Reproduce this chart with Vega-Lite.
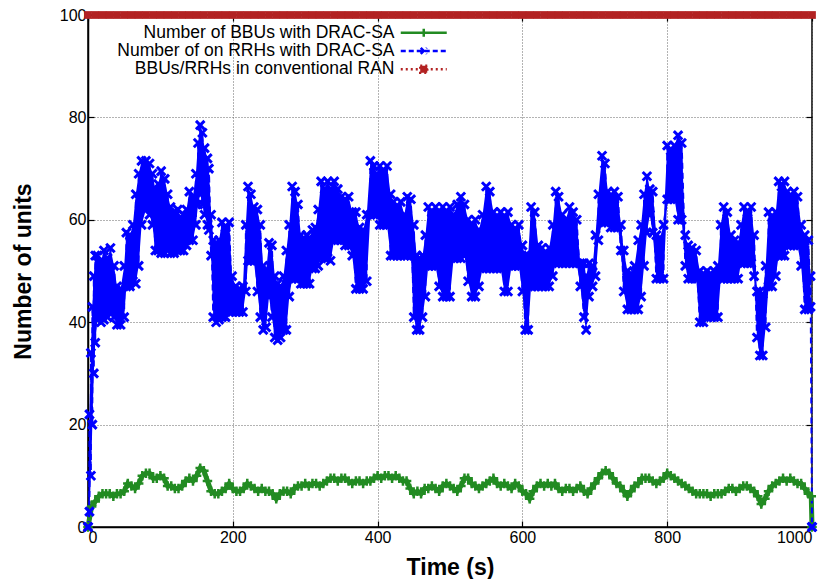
{
  "$schema": "https://vega.github.io/schema/vega-lite/v6.json",
  "width": 724,
  "height": 512,
  "autosize": "none",
  "padding": {"left": 88, "top": 15, "right": 20, "bottom": 52},
  "background": "white",
  "datasets": {
    "green": [
      {"t":0,"v":0},{"t":5,"v":4},{"t":10,"v":5},{"t":15,"v":6},{"t":20,"v":6.5},{"t":25,"v":6.5},{"t":30,"v":6.5},{"t":35,"v":6},{"t":40,"v":6.5},{"t":45,"v":6.5},{"t":50,"v":7},
      {"t":55,"v":8.5},{"t":60,"v":8},{"t":65,"v":7.5},{"t":70,"v":8.5},{"t":75,"v":10},{"t":80,"v":10.5},{"t":85,"v":10.5},{"t":90,"v":9.5},{"t":95,"v":9.5},{"t":100,"v":10},{"t":105,"v":9.5},
      {"t":110,"v":8},{"t":115,"v":8},{"t":120,"v":7.5},{"t":125,"v":7.5},{"t":130,"v":8},{"t":135,"v":9},{"t":140,"v":9.5},{"t":145,"v":9},{"t":150,"v":10},{"t":155,"v":11.5},{"t":160,"v":11},{"t":165,"v":9},
      {"t":170,"v":7},{"t":175,"v":6.5},{"t":180,"v":6.5},{"t":185,"v":7},{"t":190,"v":7.5},{"t":195,"v":8.5},{"t":200,"v":7.5},{"t":205,"v":7},{"t":210,"v":7},{"t":215,"v":7.5},{"t":220,"v":8.5},{"t":225,"v":8},{"t":230,"v":7.5},{"t":235,"v":7},{"t":240,"v":7.5},{"t":245,"v":7},{"t":250,"v":7},{"t":255,"v":6.5},{"t":260,"v":5.5},{"t":265,"v":6.5},{"t":270,"v":7},{"t":275,"v":7},{"t":280,"v":6.5},{"t":285,"v":7.5},{"t":290,"v":8},{"t":295,"v":8},
      {"t":300,"v":8.5},{"t":305,"v":8},{"t":310,"v":8.5},{"t":315,"v":8.5},{"t":320,"v":8},{"t":325,"v":8.5},{"t":330,"v":9},{"t":335,"v":9.5},{"t":340,"v":9.5},{"t":345,"v":9},{"t":350,"v":9.5},{"t":355,"v":9.5},{"t":360,"v":9},{"t":365,"v":8.5},{"t":370,"v":9},{"t":375,"v":9},{"t":380,"v":8.5},{"t":385,"v":9},{"t":390,"v":9},{"t":395,"v":9.5},
      {"t":400,"v":10},{"t":405,"v":9.5},{"t":410,"v":10},{"t":415,"v":10},{"t":420,"v":9.5},{"t":425,"v":10},{"t":430,"v":9.5},{"t":435,"v":9},{"t":440,"v":9},{"t":445,"v":7.5},{"t":450,"v":6.5},{"t":455,"v":7},{"t":460,"v":6.5},{"t":465,"v":7.5},{"t":470,"v":7.5},{"t":475,"v":8},{"t":480,"v":7.5},{"t":485,"v":7},{"t":490,"v":8},{"t":495,"v":8.5},
      {"t":500,"v":8},{"t":505,"v":7.5},{"t":510,"v":7},{"t":515,"v":8},{"t":520,"v":9.5},{"t":525,"v":9.5},{"t":530,"v":8.5},{"t":535,"v":8},{"t":540,"v":7.5},{"t":545,"v":8},{"t":550,"v":8.5},{"t":555,"v":9},{"t":560,"v":9.5},{"t":565,"v":8.5},{"t":570,"v":8},{"t":575,"v":8.5},{"t":580,"v":8},{"t":585,"v":7.5},{"t":590,"v":8.5},{"t":595,"v":8},
      {"t":600,"v":7},{"t":605,"v":6.5},{"t":610,"v":5.5},{"t":615,"v":7},{"t":620,"v":8},{"t":625,"v":8.5},{"t":630,"v":8},{"t":635,"v":8.5},{"t":640,"v":8},{"t":645,"v":8.5},{"t":650,"v":7.5},{"t":655,"v":7},{"t":660,"v":7.5},{"t":665,"v":7.5},{"t":670,"v":7},{"t":675,"v":7.5},{"t":680,"v":8},{"t":685,"v":7},{"t":690,"v":6.5},{"t":695,"v":7.5},
      {"t":700,"v":8.5},{"t":705,"v":9.5},{"t":710,"v":10.5},{"t":715,"v":11},{"t":720,"v":10.5},{"t":725,"v":9.5},{"t":730,"v":8.5},{"t":735,"v":8},{"t":740,"v":7},{"t":745,"v":6},{"t":750,"v":7},{"t":755,"v":8},{"t":760,"v":8.5},{"t":765,"v":9.5},{"t":770,"v":9.5},{"t":775,"v":9.5},{"t":780,"v":9},{"t":785,"v":8.5},{"t":790,"v":9},{"t":795,"v":9.5},
      {"t":800,"v":10.5},{"t":805,"v":10},{"t":810,"v":9.5},{"t":815,"v":9},{"t":820,"v":8.5},{"t":825,"v":8},{"t":830,"v":7.5},{"t":835,"v":7},{"t":840,"v":6.5},{"t":845,"v":6.5},{"t":850,"v":6.5},{"t":855,"v":6.5},{"t":860,"v":6},{"t":865,"v":6.5},{"t":870,"v":6.5},{"t":875,"v":6.5},{"t":880,"v":7},{"t":885,"v":7.5},{"t":890,"v":7.5},{"t":895,"v":7},
      {"t":900,"v":7.5},{"t":905,"v":8},{"t":910,"v":8},{"t":915,"v":7.5},{"t":920,"v":7},{"t":925,"v":6},{"t":930,"v":4.5},{"t":935,"v":5.5},{"t":940,"v":7},{"t":945,"v":8},{"t":950,"v":8.5},{"t":955,"v":9},{"t":960,"v":9.5},{"t":965,"v":9},{"t":970,"v":9.5},{"t":975,"v":9},{"t":980,"v":8.5},{"t":985,"v":8.5},{"t":990,"v":7.5},{"t":995,"v":6.5},{"t":999,"v":6},{"t":1000,"v":0}
    ],
    "blue": [
      {"t":0,"lo":0,"hi":0},{"t":2,"lo":3,"hi":22},{"t":4,"lo":10,"hi":34},{"t":6,"lo":20,"hi":43},{"t":8,"lo":30,"hi":49},{"t":10,"lo":36,"hi":53},{"t":13,"lo":40.5,"hi":53},{"t":18,"lo":40,"hi":52},{"t":22,"lo":40.5,"hi":54},{"t":27,"lo":41,"hi":52.5},{"t":31,"lo":42,"hi":54.5},{"t":36,"lo":41,"hi":51},{"t":40,"lo":39.5,"hi":47},{"t":45,"lo":39.5,"hi":46.5},{"t":50,"lo":41,"hi":51},
      {"t":53,"lo":47,"hi":57.5},{"t":58,"lo":47,"hi":57},{"t":62,"lo":48,"hi":59},{"t":66,"lo":47.5,"hi":65},{"t":70,"lo":51,"hi":69},{"t":74,"lo":59,"hi":71.5},{"t":80,"lo":62,"hi":71.5},{"t":85,"lo":61,"hi":71},{"t":89,"lo":59,"hi":69},{"t":93,"lo":54,"hi":66},{"t":97,"lo":54,"hi":67},{"t":101,"lo":53.5,"hi":69.5},{"t":106,"lo":53.5,"hi":68},{"t":110,"lo":54,"hi":65},{"t":114,"lo":53.5,"hi":62.5},{"t":119,"lo":53.5,"hi":61.5},{"t":124,"lo":54,"hi":62},{"t":128,"lo":54,"hi":60.5},{"t":132,"lo":54,"hi":61},{"t":136,"lo":55,"hi":62},{"t":140,"lo":56,"hi":65.5},{"t":145,"lo":56,"hi":64.5},{"t":149,"lo":59,"hi":69},{"t":152,"lo":63,"hi":75},{"t":155,"lo":65,"hi":78.5},{"t":158,"lo":63,"hi":77},{"t":161,"lo":61,"hi":74},{"t":165,"lo":59,"hi":72},{"t":167,"lo":58,"hi":70},
      {"t":170,"lo":53,"hi":61},{"t":173,"lo":41,"hi":56},{"t":177,"lo":40,"hi":55.5},{"t":181,"lo":40.5,"hi":56},{"t":185,"lo":41,"hi":59.5},{"t":190,"lo":41,"hi":58.5},{"t":195,"lo":42,"hi":59.5},{"t":199,"lo":42,"hi":49},{"t":204,"lo":42,"hi":47},{"t":209,"lo":42,"hi":46.5},{"t":214,"lo":42,"hi":47},{"t":218,"lo":46,"hi":59},{"t":221,"lo":52,"hi":66.5},{"t":225,"lo":52,"hi":65},{"t":229,"lo":52,"hi":62.5},{"t":234,"lo":46,"hi":62},{"t":238,"lo":41,"hi":59},{"t":242,"lo":38.5,"hi":51},{"t":246,"lo":39,"hi":50},{"t":250,"lo":45,"hi":55.5},{"t":254,"lo":41,"hi":55},{"t":258,"lo":37,"hi":49},{"t":262,"lo":36.5,"hi":47.5},{"t":266,"lo":37,"hi":47},{"t":270,"lo":38.5,"hi":49},{"t":274,"lo":38.5,"hi":54},{"t":278,"lo":45,"hi":59},{"t":282,"lo":48.5,"hi":66.5},{"t":286,"lo":48.5,"hi":65.5},{"t":290,"lo":48.5,"hi":63},{"t":294,"lo":47.5,"hi":57},{"t":298,"lo":47.5,"hi":56},{"t":302,"lo":47.5,"hi":57},{"t":306,"lo":47.5,"hi":56.5},{"t":310,"lo":50.5,"hi":58},{"t":314,"lo":50.5,"hi":58.5},{"t":318,"lo":51,"hi":62},{"t":322,"lo":52.5,"hi":67.5},{"t":327,"lo":52.5,"hi":66},{"t":331,"lo":52.5,"hi":67.5},
      {"t":335,"lo":52,"hi":66},{"t":340,"lo":56,"hi":67.5},{"t":345,"lo":56,"hi":66},{"t":350,"lo":56,"hi":64.5},{"t":355,"lo":55,"hi":64},{"t":360,"lo":55,"hi":64.5},{"t":365,"lo":53,"hi":61.5},{"t":370,"lo":46.5,"hi":61.5},{"t":375,"lo":46.5,"hi":58.5},{"t":380,"lo":46.5,"hi":58},{"t":385,"lo":48,"hi":61},{"t":390,"lo":61,"hi":71.5},{"t":395,"lo":61,"hi":70.5},{"t":399,"lo":61,"hi":69},{"t":403,"lo":59,"hi":70.5},{"t":408,"lo":59,"hi":69.5},{"t":413,"lo":59,"hi":70.5},{"t":418,"lo":53,"hi":65},{"t":422,"lo":53,"hi":63.5},{"t":427,"lo":53,"hi":62.5},{"t":432,"lo":53,"hi":63.5},{"t":437,"lo":53,"hi":61},{"t":441,"lo":53,"hi":64.5},{"t":446,"lo":53,"hi":64},{"t":450,"lo":41,"hi":59},{"t":454,"lo":38.5,"hi":53},{"t":458,"lo":38.5,"hi":52.5},{"t":462,"lo":41,"hi":53},{"t":466,"lo":45,"hi":57},{"t":470,"lo":51,"hi":62.5},{"t":475,"lo":51,"hi":61.5},{"t":480,"lo":51,"hi":62.5},{"t":485,"lo":47,"hi":61.5},{"t":490,"lo":45,"hi":62.5},{"t":495,"lo":45,"hi":61.5},
      {"t":500,"lo":45,"hi":62.5},{"t":505,"lo":52.5,"hi":61},{"t":510,"lo":52.5,"hi":63},{"t":515,"lo":52.5,"hi":64.5},{"t":520,"lo":53,"hi":63},{"t":525,"lo":48,"hi":60},{"t":530,"lo":45,"hi":59},{"t":535,"lo":45,"hi":60},{"t":540,"lo":47,"hi":58},{"t":545,"lo":50.5,"hi":61},{"t":550,"lo":50.5,"hi":66.5},{"t":555,"lo":50.5,"hi":65.5},{"t":560,"lo":50.5,"hi":61.5},{"t":565,"lo":50.5,"hi":60.5},{"t":570,"lo":50.5,"hi":61.5},{"t":575,"lo":46,"hi":60.5},{"t":580,"lo":46,"hi":61.5},{"t":585,"lo":51,"hi":59},{"t":590,"lo":51,"hi":58},{"t":595,"lo":51,"hi":59},{"t":600,"lo":46,"hi":55},{"t":604,"lo":38.5,"hi":53},{"t":608,"lo":38.5,"hi":53},{"t":612,"lo":47,"hi":62.5},{"t":617,"lo":47,"hi":61.5},{"t":622,"lo":47,"hi":55},{"t":627,"lo":47,"hi":54.5},{"t":632,"lo":47,"hi":53.5},{"t":637,"lo":47,"hi":54.5},{"t":642,"lo":49,"hi":59},{"t":646,"lo":51.5,"hi":65.5},{"t":650,"lo":51.5,"hi":64.5},{"t":655,"lo":51.5,"hi":61},{"t":660,"lo":51.5,"hi":60},
      {"t":665,"lo":51.5,"hi":62.5},{"t":670,"lo":51.5,"hi":61.5},{"t":675,"lo":51.5,"hi":60},{"t":680,"lo":47,"hi":51.5},{"t":685,"lo":41,"hi":51.5},{"t":688,"lo":38.5,"hi":49},{"t":692,"lo":45,"hi":51.5},{"t":697,"lo":47,"hi":51},{"t":701,"lo":49,"hi":57},{"t":705,"lo":56,"hi":65},{"t":710,"lo":59.5,"hi":72.5},{"t":714,"lo":59.5,"hi":71},{"t":718,"lo":59.5,"hi":65.5},{"t":722,"lo":58.5,"hi":64.5},{"t":727,"lo":58.5,"hi":65.5},{"t":732,"lo":58.5,"hi":64.5},{"t":736,"lo":54,"hi":59},{"t":740,"lo":46,"hi":54},{"t":745,"lo":42.5,"hi":50},{"t":750,"lo":42.5,"hi":49.5},{"t":755,"lo":42.5,"hi":51},{"t":760,"lo":42.5,"hi":56},{"t":764,"lo":45,"hi":59},{"t":768,"lo":51,"hi":65},{"t":772,"lo":57.5,"hi":68.5},{"t":776,"lo":61,"hi":66},{"t":780,"lo":57.5,"hi":65.5},{"t":785,"lo":48.5,"hi":57},{"t":790,"lo":48.5,"hi":56.5},{"t":795,"lo":48.5,"hi":59},
      {"t":800,"lo":64,"hi":74.5},{"t":805,"lo":64,"hi":73.5},{"t":810,"lo":64,"hi":74.5},{"t":815,"lo":60,"hi":76.5},{"t":820,"lo":60,"hi":75},{"t":825,"lo":51,"hi":57},{"t":829,"lo":48.5,"hi":55},{"t":834,"lo":48.5,"hi":54.5},{"t":840,"lo":48.5,"hi":54},{"t":845,"lo":40,"hi":50},{"t":850,"lo":40,"hi":49.5},{"t":855,"lo":41,"hi":50},{"t":860,"lo":41,"hi":49.5},{"t":865,"lo":41,"hi":50},{"t":870,"lo":41,"hi":51},{"t":874,"lo":48.5,"hi":59},{"t":878,"lo":48.5,"hi":62.5},{"t":883,"lo":48.5,"hi":61.5},{"t":888,"lo":48.5,"hi":57},{"t":893,"lo":48.5,"hi":56},{"t":898,"lo":48.5,"hi":55.5},{"t":902,"lo":51.5,"hi":59},{"t":906,"lo":51.5,"hi":62.5},{"t":911,"lo":51.5,"hi":61.5},{"t":916,"lo":51.5,"hi":62.5},{"t":920,"lo":49,"hi":57},{"t":924,"lo":37,"hi":46},{"t":928,"lo":33.5,"hi":46},{"t":932,"lo":33.5,"hi":45.5},{"t":936,"lo":39,"hi":51},{"t":940,"lo":47,"hi":61.5},{"t":945,"lo":47,"hi":60.5},{"t":950,"lo":49,"hi":61.5},{"t":954,"lo":53,"hi":67.5},{"t":958,"lo":53,"hi":66.5},{"t":962,"lo":53,"hi":67.5},{"t":966,"lo":55,"hi":65.5},{"t":970,"lo":55,"hi":64.5},{"t":975,"lo":55,"hi":65.5},{"t":980,"lo":55,"hi":64.5},{"t":985,"lo":51,"hi":59},{"t":990,"lo":42.5,"hi":57},{"t":995,"lo":42.5,"hi":56},{"t":998,"lo":43,"hi":49},{"t":1000,"lo":0,"hi":0}
    ],
    "red": [
      {"t":0,"v":100},{"t":10,"v":100},{"t":20,"v":100},{"t":30,"v":100},{"t":40,"v":100},{"t":50,"v":100},{"t":60,"v":100},{"t":70,"v":100},{"t":80,"v":100},{"t":90,"v":100},
      {"t":100,"v":100},{"t":110,"v":100},{"t":120,"v":100},{"t":130,"v":100},{"t":140,"v":100},{"t":150,"v":100},{"t":160,"v":100},{"t":170,"v":100},{"t":180,"v":100},{"t":190,"v":100},
      {"t":200,"v":100},{"t":210,"v":100},{"t":220,"v":100},{"t":230,"v":100},{"t":240,"v":100},{"t":250,"v":100},{"t":260,"v":100},{"t":270,"v":100},{"t":280,"v":100},{"t":290,"v":100},
      {"t":300,"v":100},{"t":310,"v":100},{"t":320,"v":100},{"t":330,"v":100},{"t":340,"v":100},{"t":350,"v":100},{"t":360,"v":100},{"t":370,"v":100},{"t":380,"v":100},{"t":390,"v":100},
      {"t":400,"v":100},{"t":410,"v":100},{"t":420,"v":100},{"t":430,"v":100},{"t":440,"v":100},{"t":450,"v":100},{"t":460,"v":100},{"t":470,"v":100},{"t":480,"v":100},{"t":490,"v":100},
      {"t":500,"v":100},{"t":510,"v":100},{"t":520,"v":100},{"t":530,"v":100},{"t":540,"v":100},{"t":550,"v":100},{"t":560,"v":100},{"t":570,"v":100},{"t":580,"v":100},{"t":590,"v":100},
      {"t":600,"v":100},{"t":610,"v":100},{"t":620,"v":100},{"t":630,"v":100},{"t":640,"v":100},{"t":650,"v":100},{"t":660,"v":100},{"t":670,"v":100},{"t":680,"v":100},{"t":690,"v":100},
      {"t":700,"v":100},{"t":710,"v":100},{"t":720,"v":100},{"t":730,"v":100},{"t":740,"v":100},{"t":750,"v":100},{"t":760,"v":100},{"t":770,"v":100},{"t":780,"v":100},{"t":790,"v":100},
      {"t":800,"v":100},{"t":810,"v":100},{"t":820,"v":100},{"t":830,"v":100},{"t":840,"v":100},{"t":850,"v":100},{"t":860,"v":100},{"t":870,"v":100},{"t":880,"v":100},{"t":890,"v":100},
      {"t":900,"v":100},{"t":910,"v":100},{"t":920,"v":100},{"t":930,"v":100},{"t":940,"v":100},{"t":950,"v":100},{"t":960,"v":100},{"t":970,"v":100},{"t":980,"v":100},{"t":990,"v":100},{"t":1000,"v":100}
    ],
    "keys": [
      {"s":"g","t":0,"v":0},{"s":"b","t":0,"v":0},{"s":"r","t":0,"v":100}
    ]
  },
  "layer": [
    {
      "data": {"name": "blue"},
      "mark": {"type": "area", "color": "#0000FF", "opacity": 1},
      "encoding": {
        "x": {"field": "t", "type": "quantitative", "scale": {"domain": [0, 1000], "nice": false},
          "axis": {"orient": "bottom", "values": [0, 200, 400, 600, 800, 1000], "format": "d", "title": "Time (s)", "grid": true, "tickSize": -6, "labelPadding": 8, "titleX": 362, "titleY": 40, "titleBaseline": "middle"}},
        "y": {"field": "lo", "type": "quantitative", "scale": {"domain": [0, 100], "nice": false},
          "axis": {"orient": "left", "values": [0, 20, 40, 60, 80, 100], "format": "d", "title": "Number of units", "grid": true, "tickSize": -6, "labelPadding": 8, "titleX": -65, "titleY": 256, "titleBaseline": "middle", "titleAngle": -90}},
        "y2": {"field": "hi"}
      }
    },
    {
      "data": {"name": "green"},
      "mark": {"type": "line", "color": "#228B22", "strokeWidth": 5},
      "encoding": {
        "x": {"field": "t", "type": "quantitative", "axis": null},
        "y": {"field": "v", "type": "quantitative", "axis": null}
      }
    },
    {
      "data": {"name": "blue"},
      "transform": [{"fold": ["lo", "hi"], "as": ["k", "y"]}],
      "mark": {"type": "line", "color": "#0000FF", "strokeWidth": 2, "strokeDash": [6, 4]},
      "encoding": {
        "x": {"field": "t", "type": "quantitative", "axis": null},
        "y": {"field": "y", "type": "quantitative", "axis": null}
      }
    },
    {
      "data": {"name": "red"},
      "mark": {"type": "line", "color": "#B22222", "strokeWidth": 3, "strokeDash": [2, 3]},
      "encoding": {
        "x": {"field": "t", "type": "quantitative", "axis": null},
        "y": {"field": "v", "type": "quantitative", "axis": null}
      }
    },
    {
      "data": {"name": "green"},
      "mark": {"type": "point", "shape": "M-1,0H1M0,-1V1", "color": "#228B22", "filled": false, "strokeWidth": 2.5, "size": 90, "opacity": 1},
      "encoding": {
        "x": {"field": "t", "type": "quantitative", "axis": null},
        "y": {"field": "v", "type": "quantitative", "axis": null}
      }
    },
    {
      "data": {"name": "blue"},
      "transform": [{"fold": ["lo", "hi"], "as": ["k", "y"]}],
      "mark": {"type": "point", "shape": "M-1,-1L1,1M-1,1L1,-1", "color": "#0000FF", "filled": false, "strokeWidth": 3, "size": 72, "opacity": 1},
      "encoding": {
        "x": {"field": "t", "type": "quantitative", "axis": null},
        "y": {"field": "y", "type": "quantitative", "axis": null}
      }
    },
    {
      "data": {"name": "red"},
      "mark": {"type": "point", "shape": "square", "color": "#B22222", "filled": true, "size": 60, "opacity": 1},
      "encoding": {
        "x": {"field": "t", "type": "quantitative", "axis": {"orient": "top", "values": [0, 200, 400, 600, 800, 1000], "labels": false, "title": null, "grid": false, "tickSize": -6, "domain": false}},
        "y": {"field": "v", "type": "quantitative", "axis": {"orient": "right", "values": [0, 20, 40, 60, 80, 100], "labels": false, "title": null, "grid": false, "tickSize": -6, "domain": false}}
      }
    },
    {
      "data": {"name": "keys"},
      "mark": {"type": "line", "strokeWidth": 2.5},
      "encoding": {
        "x": {"field": "t", "type": "quantitative", "axis": null},
        "y": {"field": "v", "type": "quantitative", "axis": null},
        "color": {"field": "s", "type": "nominal",
          "scale": {"domain": ["g", "b", "r"], "range": ["#228B22", "#0000FF", "#B22222"]},
          "legend": {"orient": "none", "legendX": 327, "legendY": 9, "title": null, "padding": 0, "symbolSize": 100, "rowPadding": -0.8, "symbolStrokeWidth": 2.5, "symbolOpacity": 1, "labelAlign": "right", "labelOffset": -38, "labelLimit": 0, "labelFontSize": 17.5, "labelFont": "Liberation Sans", "labelColor": "black",
            "labelExpr": "datum.value == 'g' ? 'Number of BBUs with DRAC-SA' : datum.value == 'b' ? 'Number of on RRHs with DRAC-SA' : 'BBUs/RRHs in conventional RAN'",
            "encoding": {"symbols": {
              "shape": {"value": {"expr": "datum.value == 'g' ? 'M-4.6,0H4.6M0,-0.8V0.8' : datum.value == 'b' ? 'M-4.6,0H4.6M-0.6,-0.6L0.6,0.6M-0.6,0.6L0.6,-0.6' : 'M-4.6,0H4.6M-0.7,-0.7H0.7V0.7H-0.7Z'"}},
              "strokeDash": {"value": {"expr": "datum.value == 'g' ? [1,0] : datum.value == 'b' ? [5,3] : [2,3]"}},
              "fill": {"value": {"expr": "datum.value == 'r' ? '#B22222' : 'transparent'"}},
              "opacity": {"value": 1}
            }}
          }
        }
      }
    }
  ],
  "resolve": {"axis": {"x": "independent", "y": "independent"}},
  "config": {
    "view": {"stroke": "black", "strokeWidth": 1.5},
    "axis": {"labelFont": "Liberation Sans", "labelFontSize": 16, "labelColor": "black", "titleFont": "Liberation Sans", "titleFontSize": 23, "titleFontWeight": "bold", "titleColor": "black", "domainColor": "black", "domainWidth": 1.5, "tickColor": "black", "tickWidth": 1.2, "gridColor": "#666666", "gridDash": [1, 2], "gridWidth": 1, "gridOpacity": 1}
  }
}
